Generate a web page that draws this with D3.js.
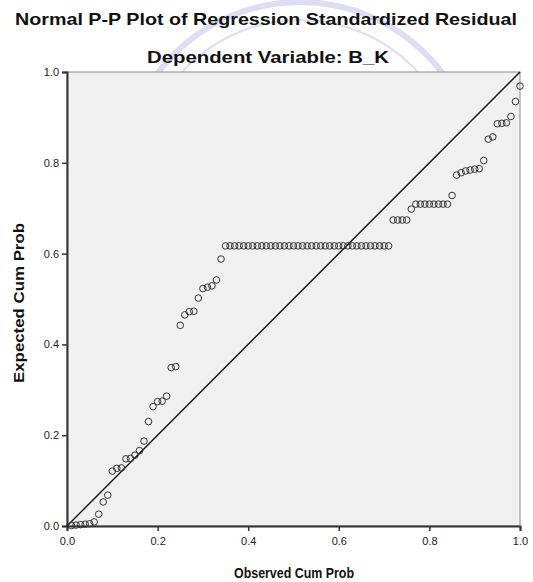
<!DOCTYPE html>
<html>
<head>
<meta charset="utf-8">
<script src="https://cdn.jsdelivr.net/npm/d3@7"></script>
<style>
  body { margin: 0; background: #fff; }
  svg { display: block; font-family: "Liberation Sans", Arial, sans-serif; }
</style>
</head>
<body>
<svg></svg>
<script>
// observed cumulative probability, one per case
const observed = [
  0.01, 0.02, 0.03, 0.04, 0.05, 0.06, 0.07, 0.08, 0.09, 0.10,
  0.11, 0.12, 0.13, 0.14, 0.15, 0.16, 0.17, 0.18, 0.19, 0.20,
  0.21, 0.22, 0.23, 0.24, 0.25, 0.26, 0.27, 0.28, 0.29, 0.30,
  0.31, 0.32, 0.33, 0.34, 0.35, 0.36, 0.37, 0.38, 0.39, 0.40,
  0.41, 0.42, 0.43, 0.44, 0.45, 0.46, 0.47, 0.48, 0.49, 0.50,
  0.51, 0.52, 0.53, 0.54, 0.55, 0.56, 0.57, 0.58, 0.59, 0.60,
  0.61, 0.62, 0.63, 0.64, 0.65, 0.66, 0.67, 0.68, 0.69, 0.70,
  0.71, 0.72, 0.73, 0.74, 0.75, 0.76, 0.77, 0.78, 0.79, 0.80,
  0.81, 0.82, 0.83, 0.84, 0.85, 0.86, 0.87, 0.88, 0.89, 0.90,
  0.91, 0.92, 0.93, 0.94, 0.95, 0.96, 0.97, 0.98, 0.99, 1.00
]
// expected cumulative probability
const expected = [
  0.001, 0.002, 0.003, 0.004, 0.005, 0.009, 0.026, 0.053, 0.068, 0.121,
  0.127, 0.128, 0.148, 0.149, 0.156, 0.166, 0.187, 0.230, 0.263, 0.274,
  0.275, 0.286, 0.349, 0.351, 0.442, 0.465, 0.472, 0.473, 0.502, 0.523,
  0.526, 0.529, 0.542, 0.588, 0.617, 0.617, 0.617, 0.617, 0.617, 0.617,
  0.617, 0.617, 0.617, 0.617, 0.617, 0.617, 0.617, 0.617, 0.617, 0.617,
  0.617, 0.617, 0.617, 0.617, 0.617, 0.617, 0.617, 0.617, 0.617, 0.617,
  0.617, 0.617, 0.617, 0.617, 0.617, 0.617, 0.617, 0.617, 0.617, 0.617,
  0.617, 0.674, 0.674, 0.674, 0.674, 0.698, 0.709, 0.709, 0.709, 0.709,
  0.709, 0.709, 0.709, 0.709, 0.728, 0.773, 0.778, 0.782, 0.784, 0.786,
  0.787, 0.805, 0.852, 0.857, 0.886, 0.887, 0.888, 0.902, 0.935, 0.969
]
const tickValues = [0, 0.2, 0.4, 0.6, 0.8, 1.0]

const width = 533, height = 582
const margin = { top: 72, right: 13, bottom: 56, left: 67 }

const svg = d3.select("svg").attr("width", width).attr("height", height)

const x = d3.scaleLinear().domain([0, 1]).range([margin.left, width - margin.right])
const y = d3.scaleLinear().domain([0, 1]).range([height - margin.bottom, margin.top])

// faint watermark behind everything (only shows above the plot)
const wm = svg.append("g").attr("fill", "none").attr("stroke", "#c8c8ee").attr("opacity", 0.6)
wm.append("circle").attr("cx", 300).attr("cy", 180).attr("r", 178).attr("stroke-width", 6)
wm.append("circle").attr("cx", 300).attr("cy", 180).attr("r", 160).attr("stroke-width", 2)

// plot background
svg.append("rect")
  .attr("x", x(0)).attr("y", y(1))
  .attr("width", x(1) - x(0)).attr("height", y(0) - y(1))
  .attr("fill", "#f0f0f0")
  .attr("stroke", "#8c8c8c").attr("stroke-width", 1)

// axes
const fmt = d3.format(".1f")
const xAxis = svg.append("g")
  .attr("transform", `translate(0,${y(0)})`)
  .call(d3.axisBottom(x).tickValues(tickValues).tickFormat(fmt).tickSizeOuter(0).tickSize(5))
const yAxis = svg.append("g")
  .attr("transform", `translate(${x(0)},0)`)
  .call(d3.axisLeft(y).tickValues(tickValues).tickFormat(fmt).tickSizeOuter(0).tickSize(5))

for (const ax of [xAxis, yAxis]) {
  ax.select(".domain").attr("stroke", "#333").attr("stroke-width", 2)
  ax.selectAll(".tick line").attr("stroke", "#333").attr("stroke-width", 1.5)
  ax.selectAll(".tick text").attr("font-size", 11).attr("fill", "#222")
    .attr("font-family", "Liberation Sans, Arial, sans-serif")
}
xAxis.selectAll(".tick text").attr("dy", "1.0em")
yAxis.selectAll(".tick text").attr("x", -8)

// reference diagonal
svg.append("line")
  .attr("x1", x(0)).attr("y1", y(0)).attr("x2", x(1)).attr("y2", y(1))
  .attr("stroke", "#111").attr("stroke-width", 1.4)

// points
svg.append("g").selectAll("circle")
  .data(observed.map((o, i) => [o, expected[i]]))
  .join("circle")
  .attr("cx", d => x(d[0]))
  .attr("cy", d => y(d[1]))
  .attr("r", 3.3)
  .attr("fill", "none")
  .attr("stroke", "#333")
  .attr("stroke-width", 1)

// titles
svg.append("text")
  .attr("x", 266).attr("y", 25)
  .attr("text-anchor", "middle")
  .attr("font-size", 17).attr("font-weight", "bold").attr("fill", "#111")
  .attr("textLength", 502).attr("lengthAdjust", "spacingAndGlyphs")
  .text("Normal P-P Plot of Regression Standardized Residual")
svg.append("text")
  .attr("x", 268).attr("y", 63)
  .attr("text-anchor", "middle")
  .attr("font-size", 17).attr("font-weight", "bold").attr("fill", "#111")
  .attr("textLength", 242).attr("lengthAdjust", "spacingAndGlyphs")
  .text("Dependent Variable: B_K")

svg.append("text")
  .attr("x", 294).attr("y", 578)
  .attr("text-anchor", "middle")
  .attr("font-size", 14).attr("font-weight", "bold").attr("fill", "#111")
  .attr("textLength", 120).attr("lengthAdjust", "spacingAndGlyphs")
  .text("Observed Cum Prob")
svg.append("text")
  .attr("transform", `translate(24,303) rotate(-90)`)
  .attr("text-anchor", "middle")
  .attr("font-size", 14).attr("font-weight", "bold").attr("fill", "#111")
  .attr("textLength", 160).attr("lengthAdjust", "spacingAndGlyphs")
  .text("Expected Cum Prob")
</script>
</body>
</html>
